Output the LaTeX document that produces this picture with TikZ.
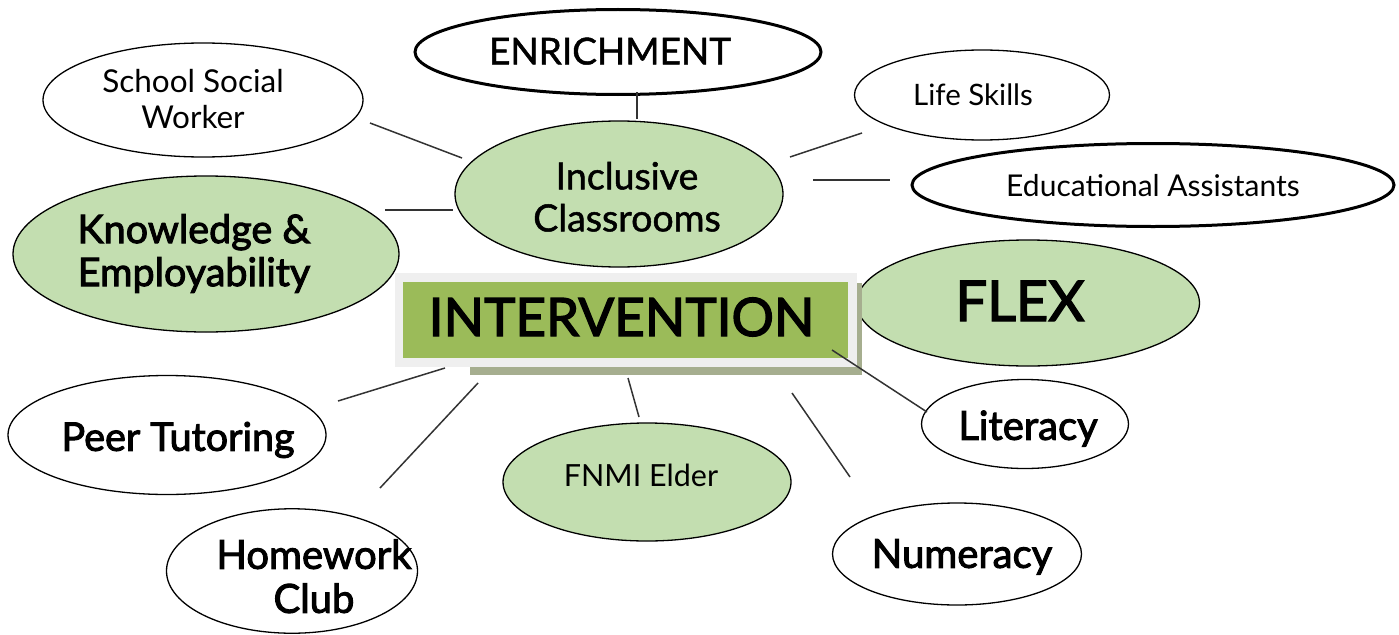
\documentclass[tikz,border=0pt]{standalone}
\usepackage{fontspec}
\setmainfont{Lato}
\newfontfamily\heavyf[FakeBold=2.5]{Lato}
\newfontfamily\medf[FakeBold=1.3]{Lato}
\usetikzlibrary{shapes.geometric}
\definecolor{lgreen}{HTML}{C3DEB0}
\definecolor{olivebox}{HTML}{9BBB59}
\definecolor{framegray}{HTML}{EFEFEF}
\definecolor{shadegray}{HTML}{A6AE8F}
\definecolor{conn}{HTML}{333333}
% #1 horizontal shift, #2 vertical shift (negative = down), #3 text
\newcommand{\ztxt}[3]{\makebox[0pt]{\hspace*{#1}\hspace*{#1}\raisebox{#2}[\height][\depth]{\begin{tabular}{@{}c@{}}#3\end{tabular}}}}
\begin{document}
\begin{tikzpicture}[x=1pt,y=-1pt,
  bub/.style={ellipse, draw=black, line width=1.3pt, fill=white, inner sep=0pt, outer sep=0pt},
  gbub/.style={bub, fill=lgreen},
  boldbub/.style={bub, line width=3pt},
  link/.style={draw=conn, line width=1.5pt}
]
\useasboundingbox (0,0) rectangle (1399,634);

% ellipses
\node[boldbub, minimum width=406, minimum height=85, font=\medf\fontsize{37}{42}\selectfont] (enr) at (618,52) {\ztxt{-8pt}{-4pt}{ENRICHMENT}};
\node[bub, minimum width=320, minimum height=114, font=\fontsize{31.5}{36}\selectfont] (ssw) at (203,100) {\ztxt{-10pt}{-3pt}{School Social\\Worker}};
\node[bub, minimum width=255, minimum height=90, font=\fontsize{29.5}{32}\selectfont] (life) at (982,95) {\ztxt{-9pt}{-4pt}{Life Skills}};
\node[boldbub, minimum width=482, minimum height=83, font=\fontsize{30}{34}\selectfont] (ea) at (1153,185) {\ztxt{0pt}{-5pt}{Educational Assistants}};
\node[gbub, minimum width=328, minimum height=146, font=\medf\fontsize{37.5}{42}\selectfont] (inc) at (619,194) {\ztxt{8pt}{-8pt}{Inclusive\\Classrooms}};
\node[gbub, minimum width=386, minimum height=156, font=\heavyf\fontsize{39.5}{43}\selectfont] (know) at (206,254) {\ztxt{-12pt}{-2pt}{Knowledge \&\\Employability}};
\node[gbub, minimum width=343, minimum height=126, font=\heavyf\fontsize{56}{60}\selectfont] (flex) at (1028,303) {\ztxt{-8pt}{-6pt}{FLEX}};
\node[bub, minimum width=318, minimum height=119, font=\heavyf\fontsize{39.5}{44}\selectfont] (peer) at (167,435) {\ztxt{11pt}{-7pt}{Peer Tutoring}};
\node[bub, minimum width=207, minimum height=89, font=\heavyf\fontsize{40}{44}\selectfont] (lit) at (1025,424) {\ztxt{3pt}{-7pt}{Literacy}};
\node[gbub, minimum width=288, minimum height=118, font=\fontsize{30.5}{34}\selectfont] (fnmi) at (647,482) {\ztxt{-6pt}{2pt}{FNMI Elder}};
\node[bub, minimum width=249, minimum height=102, font=\heavyf\fontsize{40}{44}\selectfont] (num) at (957,554) {\ztxt{5pt}{-5pt}{Numeracy}};
\node[bub, minimum width=251, minimum height=122, font=\heavyf\fontsize{40}{44}\selectfont] (hw) at (292,571) {\ztxt{22pt}{-11pt}{Homework\\Club}};

% central box
\fill[shadegray] (470,283) rectangle (862,375);
\fill[framegray] (395,273) rectangle (857,367);
\node[fill=olivebox, minimum width=445, minimum height=76, inner sep=0pt, font=\heavyf\fontsize{53}{60}\selectfont] (int) at (625.5,320) {\ztxt{-4pt}{-4pt}{INTERVENTION}};

% connector end points
\coordinate (e1) at (637,92);   \coordinate (i1) at (637,119);
\coordinate (s1) at (370,123);  \coordinate (i2) at (462,158);
\coordinate (k1) at (385,210);  \coordinate (i3) at (453,210);
\coordinate (i4) at (790,157);  \coordinate (l1) at (862,133);
\coordinate (i5) at (813,180);  \coordinate (a1) at (890,180);
\coordinate (p1) at (338,401);  \coordinate (n1) at (445,368);
\coordinate (h1) at (380,488);  \coordinate (n2) at (478,383);
\coordinate (n3) at (628,378);  \coordinate (f1) at (639,417);
\coordinate (n4) at (792,393);  \coordinate (u1) at (850,477);
\coordinate (n5) at (832,350);  \coordinate (t1) at (927,412);

\draw[link] (e1) -- (i1);
\draw[link] (s1) -- (i2);
\draw[link] (k1) -- (i3);
\draw[link] (i4) -- (l1);
\draw[link] (i5) -- (a1);
\draw[link] (p1) -- (n1);
\draw[link] (h1) -- (n2);
\draw[link] (n3) -- (f1);
\draw[link] (n4) -- (u1);
\draw[link] (n5) -- (t1);
\end{tikzpicture}
\end{document}
